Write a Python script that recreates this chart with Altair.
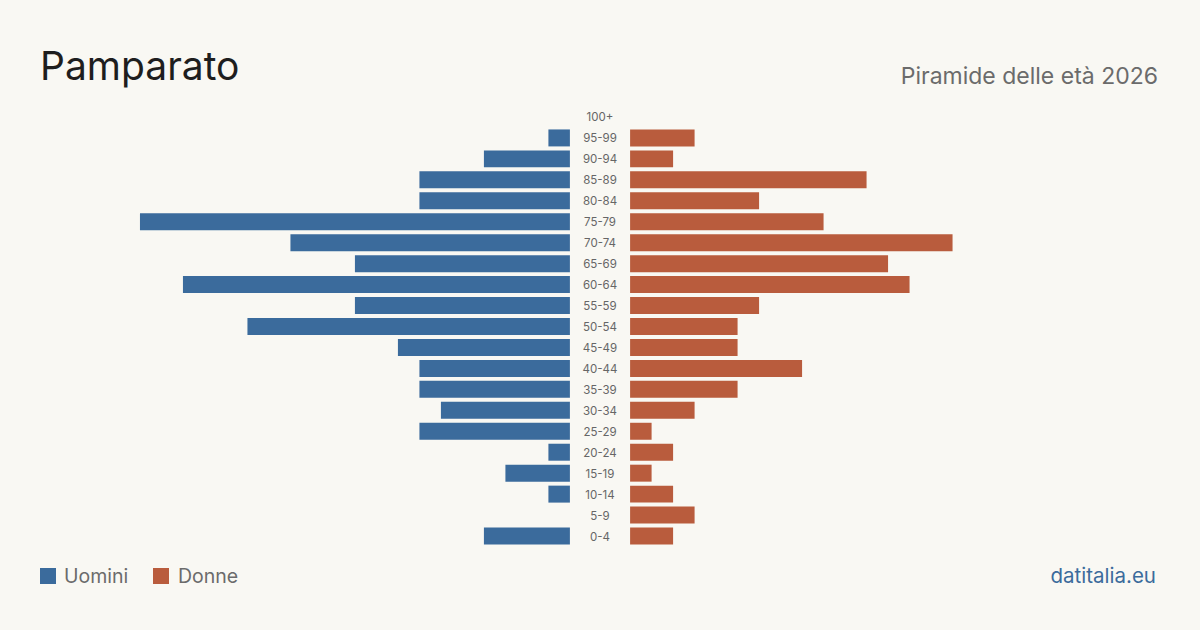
import altair as alt
import pandas as pd

# Age classes, top row first
age_groups = ["100+", "95-99", "90-94", "85-89", "80-84", "75-79", "70-74",
              "65-69", "60-64", "55-59", "50-54", "45-49", "40-44", "35-39",
              "30-34", "25-29", "20-24", "15-19", "10-14", "5-9", "0-4"]
men = [0, 1, 4, 7, 7, 20, 13, 10, 18, 10, 15, 8, 7, 7, 6, 7, 1, 3, 1, 0, 4]
women = [0, 3, 2, 11, 6, 9, 15, 12, 13, 6, 5, 5, 8, 5, 3, 1, 2, 1, 2, 3, 2]

sexes = ["Uomini", "Donne"]
colors = ["#3b6b9c", "#b95c3d"]
BG = "#f9f8f3"
FONT = "Inter"

HALF_GAP = 1.4      # space left for the age labels, in persons
X_LIMIT = 26.05     # half-width of the x domain

rows = []
for age, m, w in zip(age_groups, men, women):
    rows.append({"age": age, "sex": "Uomini", "value": m})
    rows.append({"age": age, "sex": "Donne", "value": w})
df = pd.DataFrame(rows)

x_scale = alt.Scale(domain=[-X_LIMIT, X_LIMIT], range=[40, 1160], nice=False, zero=False)
y_scale = alt.Scale(domain=age_groups, range=[106.5, 546.5],
                    paddingInner=0.19, paddingOuter=0.095)

bars = alt.Chart(df).transform_filter(
    alt.datum.value > 0
).transform_calculate(
    x0=f"datum.sex == 'Uomini' ? -{HALF_GAP} : {HALF_GAP}",
    x1=f"datum.sex == 'Uomini' ? -{HALF_GAP} - datum.value : {HALF_GAP} + datum.value",
).mark_bar(cornerRadius=0).encode(
    x=alt.X("x0:Q", scale=x_scale, axis=None),
    x2="x1:Q",
    y=alt.Y("age:N", scale=y_scale, axis=None, sort=age_groups),
    color=alt.Color("sex:N", scale=alt.Scale(domain=sexes, range=colors), legend=None),
)

age_df = pd.DataFrame({"age": age_groups, "mid": [0] * len(age_groups)})
labels = alt.Chart(age_df).mark_text(
    font=FONT, fontSize=11.5, color="#666666", align="center", baseline="middle", dy=1.5
).encode(
    x=alt.X("mid:Q", scale=x_scale, axis=None),
    y=alt.Y("age:N", scale=y_scale, axis=None, sort=age_groups),
    text="age:N",
)

one = pd.DataFrame({"k": [0]})

title = alt.Chart(one).mark_text(
    text="Pamparato", font=FONT, fontSize=39, color="#1e1e1e",
    align="left", baseline="alphabetic"
).encode(x=alt.value(40), y=alt.value(80))

subtitle = alt.Chart(one).mark_text(
    text="Piramide delle età 2026", font=FONT, fontSize=23, color="#6b6b6b",
    align="right", baseline="alphabetic"
).encode(x=alt.value(1158), y=alt.value(84))

source = alt.Chart(one).mark_text(
    text="datitalia.eu", font=FONT, fontSize=20.5, color="#3b6b9c",
    align="right", baseline="alphabetic"
).encode(x=alt.value(1156), y=alt.value(583))

legend_df = pd.DataFrame({
    "sex": sexes,
    "sx": [40, 153],
    "tx": [64, 178],
})
legend_boxes = alt.Chart(legend_df).mark_rect().encode(
    x=alt.X("sx:Q", scale=None),
    x2=alt.X2("sx2:Q"),
    y=alt.value(568),
    y2=alt.value(584),
    color=alt.Color("sex:N", scale=alt.Scale(domain=sexes, range=colors), legend=None),
).transform_calculate(sx2="datum.sx + 16")

legend_text = alt.Chart(legend_df).mark_text(
    font=FONT, fontSize=19.5, color="#6b6b6b", align="left", baseline="alphabetic"
).encode(
    x=alt.X("tx:Q", scale=None),
    y=alt.value(583),
    text="sex:N",
)

chart = alt.layer(
    bars, labels, title, subtitle, source, legend_boxes, legend_text
).properties(
    width=1200, height=630,
    autosize=alt.AutoSizeParams(type="none"),
    padding=0,
    background=BG,
).configure_view(stroke=None)

chart.save("out.html", embed_options={"renderer": "svg", "actions": False})
